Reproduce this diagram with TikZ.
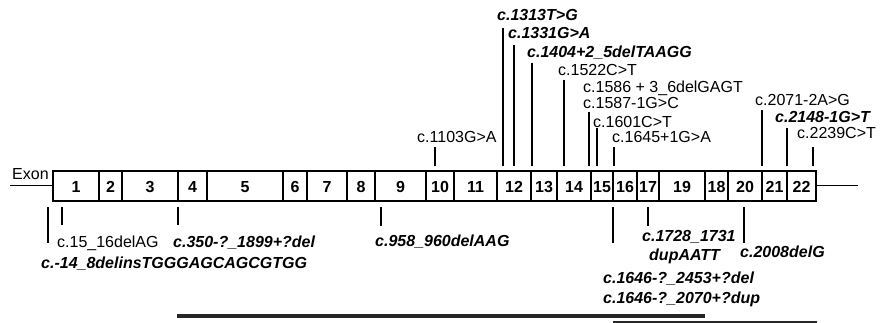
\documentclass[tikz,border=0pt]{standalone}
\usepackage{fontspec}
\setmainfont{Liberation Sans}
\begin{document}
\begin{tikzpicture}[x=1pt,y=-1pt,
  lbl/.style={anchor=base west, inner sep=0pt, font=\fontsize{16}{18}\selectfont},
  lblb/.style={anchor=base west, inner sep=0pt, font=\fontsize{16}{18}\selectfont\bfseries\itshape},
  exnum/.style={anchor=base, inner sep=0pt, font=\fontsize{16}{18}\selectfont\bfseries},
  tickline/.style={line width=1.5pt},
  boxline/.style={line width=1.4pt},
  thickbar/.style={line width=4pt, black!85},
  thinbar/.style={line width=2pt, black!85}]
\useasboundingbox (0,0) rectangle (885,323);

% backbone
\coordinate (L0) at (10,185.5);
\coordinate (L1) at (53,185.5);
\coordinate (R0) at (816,185.5);
\coordinate (R1) at (858,185.5);
\draw[boxline] (L0) -- (L1);
\draw[boxline] (R0) -- (R1);
\node[lbl] (exon) at (12,179) {Exon};

% exon box
\draw[boxline] (53,171) rectangle (816,201);
\foreach \x in {99,122,178,207,283,307,347,375,426,454,497,531,557,591,613,637,659,705,728,762,787}
  \draw[boxline] (\x,171) -- (\x,201);
\foreach \a/\b/\n in {53/99/1,99/122/2,122/178/3,178/207/4,207/283/5,283/307/6,307/347/7,347/375/8,375/426/9,426/454/10,454/497/11,497/531/12,531/557/13,557/591/14,591/613/15,613/637/16,637/659/17,659/705/19,705/728/18,728/762/20,762/787/21,787/816/22}
  \node[exnum] (ex\n) at ({(\a+\b)/2},192.5) {\n};

% upper ticks
\foreach \x/\t in {503/28,514/45,532/63,564/80,589/112,597/128,614/147,435/147,762/110,787/128,813/147}
  \draw[tickline] (\x,\t) -- (\x,166);

% lower ticks
\foreach \x/\b in {48/243,62/225,178/225,381/226,613/243,648/226,744/243}
  \draw[tickline] (\x,207) -- (\x,\b);

% upper labels
\node[lblb] (m1313) at (497,20.5) {c.1313T>G};
\node[lblb] (m1331) at (508,38.5) {c.1331G>A};
\node[lblb] (m1404) at (527,57.5) {c.1404+2\_5delTAAGG};
\node[lbl] (m1522) at (558,75.5) {c.1522C>T};
\node[lbl] (m1586) at (583,92.5) {c.1586 + 3\_6delGAGT};
\node[lbl] (m1587) at (583,108.5) {c.1587-1G>C};
\node[lbl] (m1601) at (593,127.5) {c.1601C>T};
\node[lbl] (m1645) at (612,142.5) {c.1645+1G>A};
\node[lbl] (m1103) at (417,142.5) {c.1103G>A};
\node[lbl] (m2071) at (755,105.5) {c.2071-2A>G};
\node[lblb] (m2148) at (775,122.5) {c.2148-1G>T};
\node[lbl] (m2239) at (797,138.5) {c.2239C>T};

% lower labels
\node[lbl] (m15) at (57,247) {c.15\_16delAG};
\node[lblb] (m350) at (173,247) {c.350-?\_1899+?del};
\node[lblb] (m14) at (41,268.5) {c.-14\_8delinsTGGGAGCAGCGTGG};
\node[lblb] (m958) at (375,246) {c.958\_960delAAG};
\node[lblb] (m1728) at (642,241.5) {c.1728\_1731};
\node[lblb] (mdup) at (649,260.5) {dupAATT};
\node[lblb] (m2008) at (740,257.5) {c.2008delG};
\node[lblb] (m1646a) at (603,283.5) {c.1646-?\_2453+?del};
\node[lblb] (m1646b) at (603,303.5) {c.1646-?\_2070+?dup};

% deletion / duplication bars
\coordinate (d0) at (177,316);
\coordinate (d1) at (705,316);
\coordinate (u0) at (613,322);
\coordinate (u1) at (817,322);
\draw[thickbar] (d0) -- (d1);
\draw[thinbar] (u0) -- (u1);
\end{tikzpicture}
\end{document}
